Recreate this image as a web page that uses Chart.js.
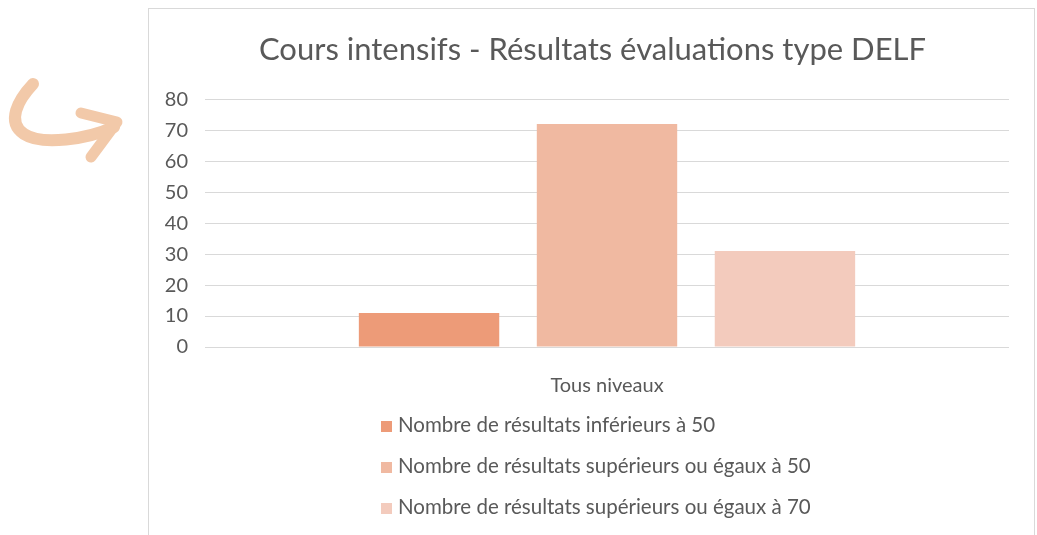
<!DOCTYPE html>
<html>
<head>
<meta charset="utf-8">
<script src="https://cdn.jsdelivr.net/npm/chart.js@4"></script>
<style>
  html, body { margin: 0; padding: 0; background: #fff; }
  body { width: 1037px; height: 535px; position: relative; overflow: hidden; font-family: Lato, "Open Sans", sans-serif; }
  #frame { position: absolute; left: 148px; top: 8px; width: 887px; height: 600px; border: 1px solid #d9d9d9; box-sizing: border-box; }
  #wrap { position: absolute; left: 0; top: 0; width: 1037px; height: 535px; }
  #arrow { position: absolute; left: 0; top: 0; }
  #legend { position: absolute; left: 381px; top: 404px; }
  #legend div { height: 41px; line-height: 41px; font-size: 20.5px; color: #595959; white-space: nowrap; }
  #legend span { display: inline-block; width: 11px; height: 11px; margin-right: 6px; vertical-align: 0px; }
</style>
</head>
<body>
<svg id="arrow" width="140" height="180">
  <path d="M33 84 C 18 100, 6 122, 24 134 C 42 146, 88 139, 114 127" fill="none" stroke="#f2c9a9" stroke-width="12" stroke-linecap="round"/>
  <path d="M81 113 L 117 122 L 91 157" fill="none" stroke="#f2c9a9" stroke-width="11" stroke-linecap="round" stroke-linejoin="round"/>
</svg>
<div id="frame"></div>
<div id="wrap"><canvas id="chart" width="1037" height="535"></canvas></div>
<div id="legend"></div>
<script>
// values
const categories = ['Tous niveaux'];
const seriesNames = [
  'Nombre de résultats inférieurs à 50',
  'Nombre de résultats supérieurs ou égaux à 50',
  'Nombre de résultats supérieurs ou égaux à 70'
];
const below50 = [11];
const atLeast50 = [72];
const atLeast70 = [31];
const colors = ['#ed9b78', '#f0b9a1', '#f3cbbd'];

const textColor = '#595959';
const font = 'Lato, "Open Sans", sans-serif';

const chart = new Chart(document.getElementById('chart'), {
  type: 'bar',
  data: {
    labels: categories,
    datasets: [below50, atLeast50, atLeast70].map((d, i) => ({
      label: seriesNames[i],
      data: d,
      backgroundColor: colors[i],
      categoryPercentage: 0.664,
      barPercentage: 0.789
    }))
  },
  options: {
    responsive: false,
    animation: false,
    layout: { padding: { left: 148, right: 0, top: 0, bottom: 0 } },
    plugins: {
      legend: { display: false },
      tooltip: { enabled: false },
      title: {
        display: true,
        text: 'Cours intensifs - Résultats évaluations type DELF',
        color: textColor,
        font: { family: font, size: 31, weight: 'normal' },
        padding: { top: 31, bottom: 31 }
      }
    },
    scales: {
      x: {
        grid: { display: false },
        border: { display: false },
        ticks: { color: textColor, font: { family: font, size: 20 }, padding: 19 },
        afterFit: s => { s.height = 188; }
      },
      y: {
        min: 0,
        max: 80,
        ticks: { stepSize: 10, color: textColor, font: { family: font, size: 20 }, padding: 17 },
        grid: { color: '#d9d9d9', drawTicks: false },
        border: { display: false },
        afterFit: s => { s.width = 57; }
      },
      // empty right axis, only to keep the plot clear of the frame edge
      yRight: {
        position: 'right',
        display: true,
        ticks: { display: false },
        grid: { display: false },
        border: { display: false },
        afterFit: s => { s.width = 28; }
      }
    }
  }
});

// legend in a single left-aligned column, as in the picture
const legendEl = document.getElementById('legend');
chart.data.datasets.forEach(ds => {
  const row = document.createElement('div');
  const box = document.createElement('span');
  box.style.background = ds.backgroundColor;
  row.appendChild(box);
  row.appendChild(document.createTextNode(ds.label));
  legendEl.appendChild(row);
});
</script>
</body>
</html>
